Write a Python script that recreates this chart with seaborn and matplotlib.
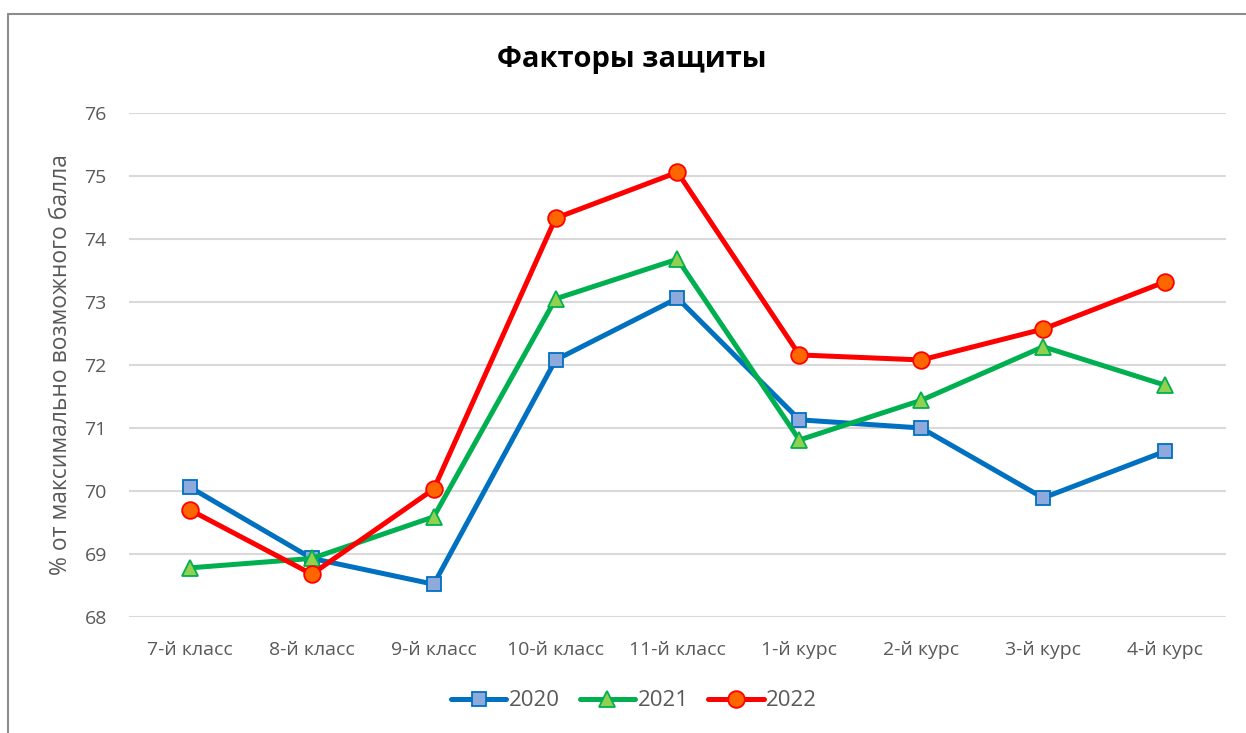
import matplotlib
matplotlib.use("Agg")
import matplotlib.pyplot as plt
from matplotlib.lines import Line2D
import seaborn as sns
import pandas as pd

categories = ["7-й класс", "8-й класс", "9-й класс", "10-й класс", "11-й класс",
              "1-й курс", "2-й курс", "3-й курс", "4-й курс"]
values_2020 = [70.06, 68.93, 68.52, 72.08, 73.06, 71.13, 71.00, 69.89, 70.63]
values_2021 = [68.78, 68.93, 69.59, 73.05, 73.68, 70.81, 71.44, 72.29, 71.68]
values_2022 = [69.70, 68.68, 70.03, 74.33, 75.06, 72.16, 72.08, 72.57, 73.32]
years = ["2020", "2021", "2022"]
yticks = [68, 69, 70, 71, 72, 73, 74, 75, 76]
title = "Факторы защиты"
ylabel = "% от максимально возможного балла"

sns.set_theme(style="white")
plt.rcParams['font.family'] = ['Open Sans', 'DejaVu Sans']

fig = plt.figure(figsize=(12.46, 7.33), dpi=100)
ax = fig.add_axes([129/1246, 1-617/733, (1226-129)/1246, (617-113)/733])

styles = {
    "2020": dict(color="#0070C0", marker="s", mfc="#8EA9DB", mec="#0070C0", ms=10),
    "2021": dict(color="#00B050", marker="^", mfc="#92D050", mec="#00B050", ms=12),
    "2022": dict(color="#FF0000", marker="o", mfc="#FF6600", mec="#FF0000", ms=12),
}
series = {"2020": values_2020, "2021": values_2021, "2022": values_2022}
xs = list(range(len(categories)))
handles = []
for y in years:
    st = styles[y]
    df = pd.DataFrame({"x": xs, "v": series[y]})
    sns.lineplot(data=df, x="x", y="v", ax=ax, color=st["color"], linewidth=3.6,
                 marker=st["marker"], markersize=st["ms"], markerfacecolor=st["mfc"],
                 markeredgecolor=st["mec"], markeredgewidth=1.3, sort=False, zorder=3)
    handles.append(Line2D([0], [0], color=st["color"], linewidth=3.6, marker=st["marker"],
                          markersize=st["ms"], markerfacecolor=st["mfc"],
                          markeredgecolor=st["mec"], markeredgewidth=1.3, label=y))

ax.set_xlim(-0.5, len(categories) - 0.5)
ax.set_ylim(68, 76)
ax.set_yticks(yticks)
ax.set_xticks(xs)
ax.set_xticklabels(categories)
ax.grid(axis="y", color="#D9D9D9", linewidth=1.5, zorder=0)
ax.grid(axis="x", visible=False)
for s in ax.spines.values():
    s.set_visible(False)
ax.tick_params(axis="both", length=0, labelsize=14, labelcolor="#595959")
ax.tick_params(axis="x", pad=17)
ax.tick_params(axis="y", pad=16)
ax.set_xlabel("")
ax.set_ylabel(ylabel, fontsize=16.5, color="#595959", labelpad=8)

fig.text(632/1246, 1-60/733, title, ha="center", va="center", fontsize=21,
         fontweight="bold", color="black")

fig.legend(handles=handles, loc="center", bbox_to_anchor=(634/1246, 1-701/733), ncol=3,
           frameon=False, fontsize=16, handlelength=2.5, columnspacing=0.9,
           handletextpad=0.1, labelcolor="#595959")

fig.add_artist(Line2D([8/1246, 1.0], [1-14/733, 1-14/733], transform=fig.transFigure,
                      color="#8C8C8C", linewidth=1.5))
fig.add_artist(Line2D([8/1246, 8/1246], [1-14/733, 0.0], transform=fig.transFigure,
                      color="#8C8C8C", linewidth=1.5))

fig.savefig("out.png", dpi=100, facecolor="white")
